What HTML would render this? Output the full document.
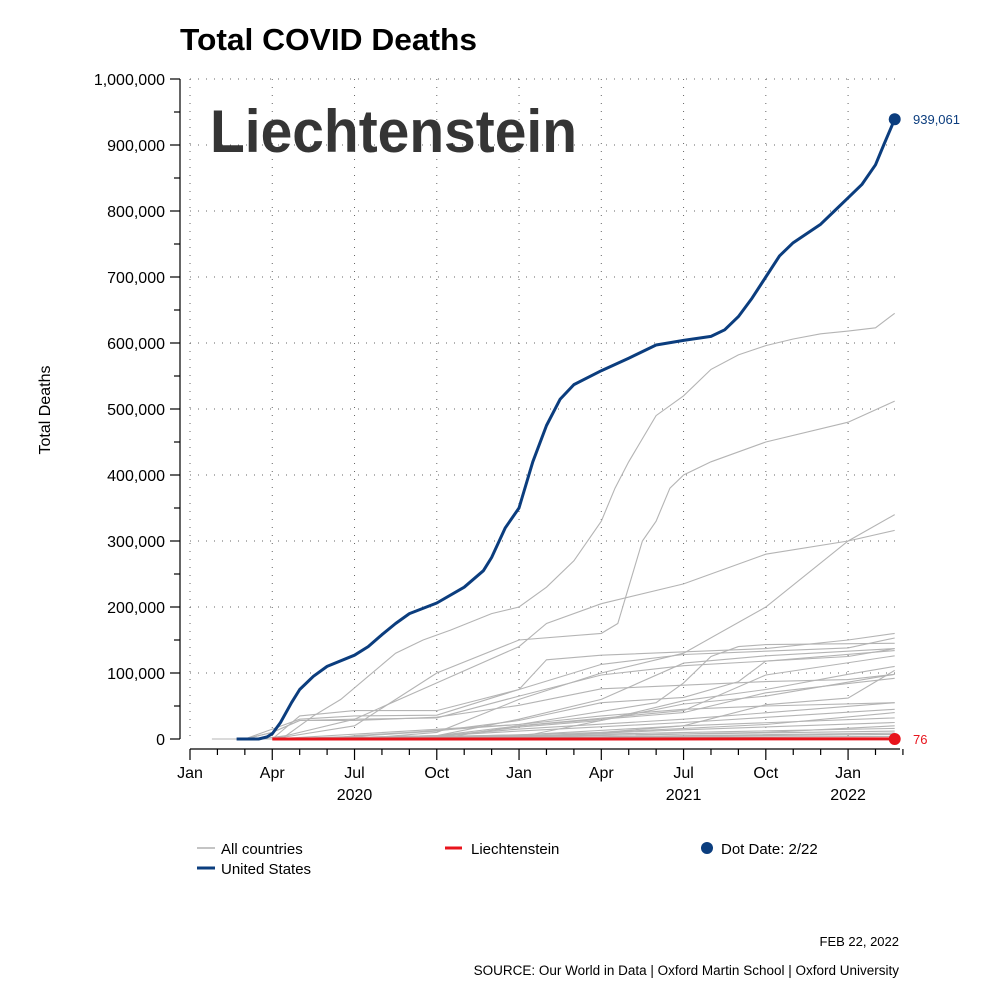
<!DOCTYPE html>
<html><head><meta charset="utf-8"><style>
html,body{margin:0;padding:0;background:#fff;}
svg{display:block;font-family:"Liberation Sans",sans-serif;}
</style></head><body>
<svg id="chart" width="1000" height="1000" viewBox="0 0 1000 1000" xmlns="http://www.w3.org/2000/svg">
<rect width="1000" height="1000" fill="#fff"/>
<text x="180" y="50" font-size="31" font-weight="bold" textLength="297" lengthAdjust="spacingAndGlyphs">Total COVID Deaths</text>
<g id="grid"></g>
<g id="axes"></g>
<g id="series"></g>
<text x="210" y="152" font-size="60" font-weight="bold" fill="#353535" textLength="367" lengthAdjust="spacingAndGlyphs">Liechtenstein</text>
<text transform="translate(50,410) rotate(-90)" text-anchor="middle" font-size="16">Total Deaths</text>
<g>
<line x1="197" y1="848" x2="215" y2="848" stroke="#b0b0b0" stroke-width="1.5"/>
<text x="221" y="854" font-size="15">All countries</text>
<line x1="197" y1="868" x2="215" y2="868" stroke="#0b3d7e" stroke-width="3"/>
<text x="221" y="874" font-size="15">United States</text>
<line x1="445" y1="848" x2="462" y2="848" stroke="#e8141c" stroke-width="3"/>
<text x="471" y="854" font-size="15">Liechtenstein</text>
<circle cx="707" cy="848" r="6" fill="#0b3d7e"/>
<text x="721" y="854" font-size="15">Dot Date: 2/22</text>
</g>
<text x="899" y="946" text-anchor="end" font-size="13">FEB 22, 2022</text>
<text x="899" y="975" text-anchor="end" font-size="13.5">SOURCE: Our World in Data | Oxford Martin School | Oxford University</text>
</svg>
<script>
// months since Jan 1 2020, values in thousands of deaths
const yTicks=[0,100,200,300,400,500,600,700,800,900,1000];
const yTickLabels=["0","100,000","200,000","300,000","400,000","500,000","600,000","700,000","800,000","900,000","1,000,000"];
const xTicks=[0,3,6,9,12,15,18,21,24];
const xTickLabels=["Jan","Apr","Jul","Oct","Jan","Apr","Jul","Oct","Jan"];
const yearLabels=["2020","2021","2022"];
const yearPos=[6,18,24];
const usMonths=[1.7,2.5,2.8,3.0,3.3,3.7,4.0,4.5,5.0,6.0,6.5,7.0,7.5,8.0,9.0,10.0,10.7,11.0,11.5,12.0,12.5,13.0,13.5,14.0,15.0,16.0,17.0,18.0,19.0,19.5,20.0,20.5,21.0,21.5,22.0,23.0,23.5,24.0,24.5,25.0,25.3,25.7];
const usValues=[0,0,3,8,25,55,75,95,110,127,140,158,175,190,206,230,255,275,320,350,420,475,515,537,558,577,597,604,610,620,640,668,700,732,752,780,800,820,840,870,900,939.061];
const liMonths=[3.0,25.7];
const liValues=[0.001,0.076];
const grayMonths=[
[0.8,2.5,3.5,4.5,5.5,6.5,7.5,8.5,9.5,11,12,13,14,15,15.5,16,17,18,19,20,21,22,23,24,25,25.7],
[2,3,6,9,12,15,15.6,16.5,17,17.5,18,19,21,24,25.7],
[2,3,6,9,12,13,15,18,21,24,25.7],
[3,6,9,12,15,18,21,24,25.7],
[2,3,4,6,9,12,13,15,21,24,25.7],
[2,3,4,6,9,12,15,18,24,25.7],
[3,12,17,18,19,20,21,25.7],
[2,3,4,6,9,12,15,18,24,25.7],
[5,6,8,12,15,18,21,25.7],
[6,9,12,15,18,21,25.7],
[9,12,18,21,25.7],
[3,6,9,12,15,18,20,21,25.7],
[2,3,4,6,9,12,15,21,24,25.7],
[9,12,15,18,21,24,25.7],
[12,18,21,24,25.7],
[6,9,12,15,18,21,25.7],
[3,9,12,18,21,25.7],
[3,9,12,18,25.7],
[3,9,12,18,25.7],
[3,9,15,21,25.7],
[3,12,18,25.7],
[3,12,18,25.7],
[3,12,21,25.7],
[3,12,25.7],
[3,12,25.7],
[3,12,25.7],
[3,15,25.7],
[3,25.7]
];
const grayValues=[
[0,0,5,35,60,95,130,150,165,190,200,230,270,330,380,420,490,520,560,582,596,606,614,618,623,645],
[0,0,20,100,150,160,175,300,330,380,400,420,450,480,512],
[0,0,30,85,140,175,205,235,280,300,316],
[0,0,10,60,100,130,200,300,340],
[0,0,35,43,43,75,120,127,137,150,160],
[0,15,30,35,36,75,113,128,138,153],
[0,22,55,85,125,140,143,145],
[0,10,28,30,32,65,97,111,125,137],
[0,5,10,22,35,45,50,55],
[0,5,30,60,115,126,137],
[0,20,43,97,126],
[0,4,12,28,55,63,87,118,134],
[0,10,28,28,33,51,76,87,90,98],
[0,3,28,58,75,98,110],
[0,20,52,62,104],
[0,3,18,28,53,65,98],
[0,5,20,40,70,92],
[0,5,15,30,55],
[0,5,12,25,45],
[0,3,10,22,40],
[0,6,20,32],
[0,4,14,25],
[0,3,10,20],
[0,5,16],
[0,4,12],
[0,2,9],
[0,3,7],
[0,4]
];
const NS="http://www.w3.org/2000/svg";
const X0=190,PXM=27.42,Y0=739,PXK=0.66;
function xs(m){return X0+m*PXM;}
function ys(k){return Y0-k*PXK;}
function mk(tag,attrs,parent){const e=document.createElementNS(NS,tag);for(const k in attrs)e.setAttribute(k,attrs[k]);parent.appendChild(e);return e;}
const grid=document.getElementById('grid'),axes=document.getElementById('axes'),series=document.getElementById('series');
yTicks.forEach((v,i)=>{if(v===0)return;const l=mk('line',{x1:190,x2:900,y1:ys(v),y2:ys(v),stroke:'#666','stroke-width':1,'stroke-dasharray':'1 7'},grid);

});
xTicks.forEach(m=>{const l=mk('line',{x1:xs(m),x2:xs(m),y1:79,y2:739,stroke:'#666','stroke-width':1,'stroke-dasharray':'1 7'},grid);

});
const ya=mk('line',{x1:180,x2:180,y1:79,y2:739,stroke:'#000','stroke-width':1.2},axes);


for(let v=0;v<=1000;v+=50){const t=mk('line',{x1:v%100===0?170:174,x2:180,y1:ys(v),y2:ys(v),stroke:'#000','stroke-width':1.2},axes);

}
yTicks.forEach((v,i)=>{const t=mk('text',{x:165,y:ys(v)+6,'text-anchor':'end','font-size':16},axes);t.textContent=yTickLabels[i];

});
const xa=mk('line',{x1:190,x2:900,y1:749,y2:749,stroke:'#000','stroke-width':1.2},axes);


for(let m=0;m<=26;m++){const major=m%3===0;const t=mk('line',{x1:xs(m),x2:xs(m),y1:749,y2:major?760:755,stroke:'#000','stroke-width':1.2},axes);

}
xTicks.forEach((m,i)=>{const t=mk('text',{x:xs(m),y:778,'text-anchor':'middle','font-size':16},axes);t.textContent=xTickLabels[i];

});
yearLabels.forEach((y,i)=>{const t=mk('text',{x:xs(yearPos[i]),y:800,'text-anchor':'middle','font-size':16},axes);t.textContent=y;

});
function pathD(ms,vs){return ms.map((m,i)=>(i?'L':'M')+xs(m).toFixed(1)+','+ys(vs[i]).toFixed(1)).join('');}
grayMonths.forEach((ms,i)=>{const p=mk('path',{d:pathD(ms,grayValues[i]),fill:'none',stroke:'#b4b4b4','stroke-width':1.1},series);

});
const li=mk('path',{d:pathD(liMonths,liValues),fill:'none',stroke:'#e8141c','stroke-width':3},series);


const us=mk('path',{d:pathD(usMonths,usValues),fill:'none',stroke:'#0b3d7e','stroke-width':3,'stroke-linejoin':'round'},series);


const ul=usMonths.length-1;
const ud=mk('circle',{cx:xs(usMonths[ul]),cy:ys(usValues[ul]),r:6,fill:'#0b3d7e'},series);


const ut=mk('text',{x:913,y:ys(usValues[ul])+5,'font-size':13,fill:'#0b3d7e'},series);ut.textContent=Math.round(usValues[ul]*1000).toLocaleString('en-US');


const ll=liMonths.length-1;
const ld=mk('circle',{cx:xs(liMonths[ll]),cy:ys(liValues[ll]),r:6,fill:'#e8141c'},series);


const lt=mk('text',{x:913,y:ys(liValues[ll])+5,'font-size':13,fill:'#e8141c'},series);lt.textContent=Math.round(liValues[ll]*1000);


</script>
</body></html>
